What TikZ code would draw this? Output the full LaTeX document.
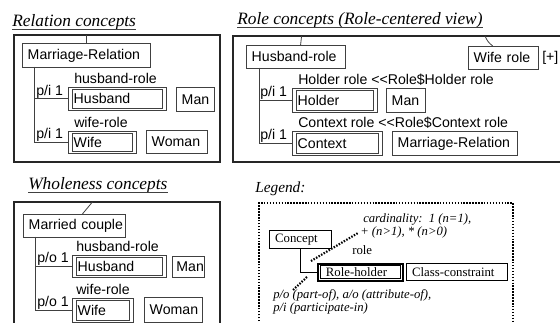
\documentclass[tikz,border=0pt]{standalone}
\usepackage{fontspec}
\setmainfont{Liberation Serif}
\setsansfont{Liberation Sans}
\usetikzlibrary{positioning}

\tikzset{
  box/.style={draw=black!75, line width=0.6pt, inner xsep=4pt, inner ysep=0pt, anchor=north west,
    font=\sffamily\fontsize{10.6}{12}\selectfont,
    execute at begin node={\hbox\bgroup}, execute at end node={\egroup}},
  bw/.style={text width=#1*0.75pt-8pt},
  tw/.style={inner xsep=3pt, text width=#1*0.75pt-6pt},
  bh/.style={minimum height=#1*0.75pt},
  lbl/.style={font=\sffamily\fontsize{10.6}{12}\selectfont, inner sep=0pt, anchor=base west},
  ttl/.style={font=\rmfamily\itshape\fontsize{13}{15}\selectfont, inner sep=0pt, anchor=base west},
  lgd/.style={font=\rmfamily\itshape\fontsize{9.5}{11}\selectfont, inner sep=0pt, anchor=base west},
  lbox/.style={box, draw=black, line width=1.1pt, font=\rmfamily\fontsize{9.6}{11}\selectfont},
  link/.style={draw=black!75, line width=0.6pt},
  frame/.style={draw=black!85, line width=0.9pt},
  dots/.style={line width=1.6pt, dash pattern=on 1.1pt off 1.1pt},
}

\begin{document}
\begin{tikzpicture}[x=0.75pt, y=-0.75pt]
\useasboundingbox (0,0) rectangle (560,323);

% Relation concepts
\node[ttl] (t1) at (12,27) {Relation concepts};
\draw[link] ([yshift=-1.6pt]t1.base west) -- ([yshift=-1.6pt]t1.base east);
\draw[frame] (14,35) rectangle (220,162);
\node[box, bw=128, bh=24] (mr) at (22,43) {Marriage-Relation};
\draw[link] (mr.north) -- ++(0,-8);
\node[box, bw=98, bh=23] (rhus) at (68,87) {Husband};
\draw[link] ([shift={(3pt,-1.8pt)}]rhus.north west) rectangle ([shift={(-3pt,1.8pt)}]rhus.south east);
\node[box, bw=38, bh=24] (rman) at (176,87) {Man};
\node[box, bw=68, bh=22] (rwif) at (68,131) {Wife};
\draw[link] ([shift={(3pt,-1.8pt)}]rwif.north west) rectangle ([shift={(-3pt,1.8pt)}]rwif.south east);
\node[box, bw=61, bh=23] (rwom) at (146,130) {Woman};
\node[lbl] at (74,84) {husband-role};
\node[lbl] at (74,128) {wife-role};
\coordinate (rv) at (34,67);
\draw[link] (rv) |- (rhus.west);
\draw[link] (rv) |- (rwif.west);
\node[lbl] at (36,96) {p/i 1};
\node[lbl] at (36,139) {p/i 1};

% Role concepts
\node[ttl] (t2) at (237,25) {Role concepts (Role-centered view)};
\draw[link] ([yshift=-1.6pt]t2.base west) -- ([yshift=-1.6pt]t2.base east);
\draw[frame] (565,162) -- (233,162) -- (233,36) -- (565,36);
\node[box, bw=99, bh=23] (hr) at (246,45) {Husband-role};
\draw[link] ([xshift=3.5pt]hr.north) -- ++(1,-9);
\node[box, bw=70, bh=23] (wr) at (468,46) {Wife role};
\coordinate (wtop) at (485,36);
\draw[link] ([xshift=-8pt]wr.north) to[bend left=15] (wtop);
\node[lbl, anchor=west] at (542,58) {[+]};
\node[box, bw=85, bh=24] (hold) at (292,88) {Holder};
\draw[link] ([shift={(3pt,-1.8pt)}]hold.north west) rectangle ([shift={(-3pt,1.8pt)}]hold.south east);
\node[box, bw=39, bh=24] (hman) at (386,88) {Man};
\node[box, bw=90, bh=24] (ctx) at (292,131) {Context};
\draw[link] ([shift={(3pt,-1.8pt)}]ctx.north west) rectangle ([shift={(-3pt,1.8pt)}]ctx.south east);
\node[box, bw=125, bh=24] (hmr) at (392,131) {Marriage-Relation};
\node[lbl] at (298,85) {Holder role <{}<Role\$Holder role};
\node[lbl] at (298,128) {Context role <{}<Role\$Context role};
\coordinate (hv) at (259,68);
\draw[link] (hv) |- (hold.west);
\draw[link] (hv) |- (ctx.west);
\node[lbl] at (260,97) {p/i 1};
\node[lbl] at (260,140) {p/i 1};

% Wholeness concepts
\node[ttl] (t3) at (28,190) {Wholeness concepts};
\draw[link] ([yshift=-1.6pt]t3.base west) -- ([yshift=-1.6pt]t3.base east);
\draw[frame] (14,330) -- (14,202) -- (220,202) -- (220,330);
\node[box, bw=102, bh=23] (mc) at (23,214) {Married couple};
\draw[link] ([xshift=6pt]mc.north) -- ++(10,-12);
\node[box, bw=94, bh=22] (whus) at (72,255) {Husband};
\draw[link] ([shift={(3pt,-1.8pt)}]whus.north west) rectangle ([shift={(-3pt,1.8pt)}]whus.south east);
\node[box, tw=32, bh=21] (wman) at (172,256) {Man};
\node[box, bw=61, bh=24] (wwif) at (72,298) {Wife};
\draw[link] ([shift={(3pt,-1.8pt)}]wwif.north west) rectangle ([shift={(-3pt,1.8pt)}]wwif.south east);
\node[box, bw=58, bh=25] (wwom) at (144,297) {Woman};
\node[lbl] at (76,252) {husband-role};
\node[lbl] at (76,295) {wife-role};
\coordinate (wv) at (35,237);
\draw[link] (wv) |- (whus.west);
\draw[link] (wv) |- (wwif.west);
\node[lbl] at (37,263) {p/o 1};
\node[lbl] at (37,307) {p/o 1};

% Legend
\node[ttl, font=\rmfamily\itshape\fontsize{11.5}{13}\selectfont] at (255,193) {Legend:};
\draw[dots, line width=1.4pt] (259,330) -- (259,203) -- (513,203) -- (513,330);
\node[lbox, bw=62, bh=18] (cp) at (269,230) {Concept};
\node[lbox, line width=1.3pt, bw=85, bh=17] (rh) at (317,263) {\hspace{2pt}Role-holder};
\draw[line width=0.8pt] ([shift={(2.3pt,-2.1pt)}]rh.north west) rectangle ([shift={(-2.3pt,2.1pt)}]rh.south east);
\node[lbox, bw=101, bh=17] (cc) at (406,263) {Class-constraint};
\draw[line width=1.1pt] (cp.south) |- (rh.west);
\node[lgd] at (363,223) {cardinality:\ \ 1 (n=1),};
\node[lgd] at (360,236) {+ (n>1), * (n>0)};
\node[lgd, font=\rmfamily\fontsize{9.6}{11}\selectfont] at (352,255) {role};
\coordinate (c1) at (311,261);
\coordinate (c2) at (358,233);
\coordinate (c3) at (307,277);
\coordinate (c4) at (293,290);
\draw[dots] (c1) -- (c2);
\draw[dots] (c3) -- (c4);
\node[lgd] at (273,299) {p/o (part-of), a/o (attribute-of),};
\node[lgd] at (273,312) {p/i (participate-in)};
\end{tikzpicture}
\end{document}
